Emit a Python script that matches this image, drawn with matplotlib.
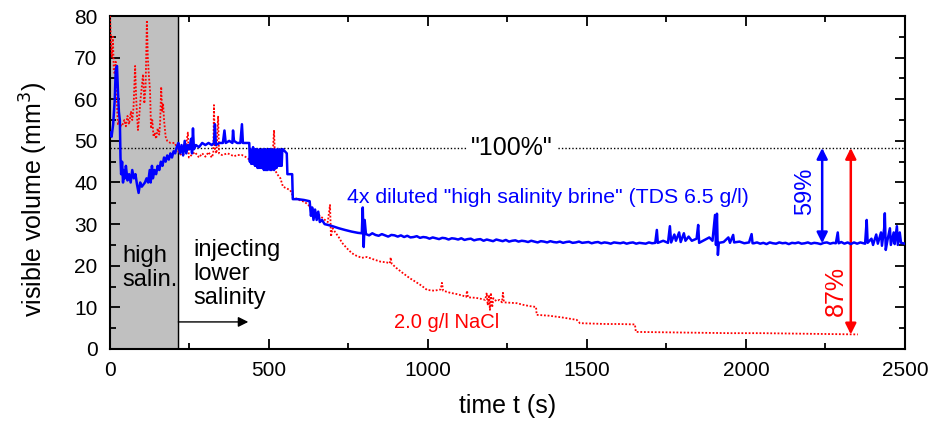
import matplotlib
matplotlib.use("Agg")
import matplotlib.pyplot as plt
from matplotlib.ticker import MultipleLocator

# ── Data ───────────────────────────────────────────────────────────────────────

# blue trace: 4x diluted high salinity brine, split into pieces for readability
blue_t_start = [0, 5, 10, 15, 18, 22, 25, 28, 31, 33,
                35, 38, 41, 44, 47, 50, 55, 60, 65, 70,
                75, 80, 85, 90, 95, 100, 110, 115, 120, 125,
                128, 132, 135, 140, 145, 150, 155, 160, 165, 170,
                175, 180, 185, 190, 195, 200, 205, 210, 215, 220,
                225, 230, 235, 240, 245, 250, 255, 258, 261, 264,
                270, 280, 290, 300, 310, 320, 327, 330, 333, 345,
                355, 360, 364, 375, 385, 387, 390, 400, 410, 415,
                418, 430, 438]
blue_v_start = [52, 51, 54, 60, 67, 68, 62, 57, 55, 46,
                42, 45, 40, 43, 41, 44, 40.5, 42, 40, 43,
                41, 42, 39.5, 37.5, 40, 39, 40, 41, 40, 43,
                40, 44, 41, 43, 42, 44, 43, 45, 44, 46,
                45, 46.5, 45.5, 47, 46, 47.5, 47, 48.5, 49.5, 47,
                49, 46.5, 50, 47, 49, 48, 50.5, 47, 53, 48,
                49, 48.5, 49.5, 49, 49.5, 49, 49.5, 54, 49, 49.5,
                49.5, 52.5, 49.5, 50, 49.5, 52.5, 50, 49.5, 49.5, 54,
                49.5, 49.5, 49.5]

blue_t_osc = [440, 442, 444, 446, 448, 450, 452, 454, 456, 458,
              460, 462, 464, 466, 468, 470, 472, 474, 476, 478,
              480, 482, 484, 486, 488, 490, 492, 494, 496, 498,
              500, 502, 504, 506, 508, 510, 512, 514, 516, 518,
              520, 522, 524, 526, 528, 530, 532, 534, 536, 538,
              540, 542, 544, 550, 556]
blue_v_osc = [45, 48, 44.5, 47.5, 44.5, 48.5, 44.5, 47, 44, 48,
              44, 48, 43.5, 47.5, 43.5, 48, 43.5, 47.5, 43.5, 48,
              43.5, 47.5, 43, 48, 43, 48, 43, 47.5, 43, 48,
              43.5, 48, 43, 47.5, 43, 48, 43.5, 47.5, 43, 48,
              44, 47.5, 43.5, 48, 44, 47.5, 44, 48, 44, 47.5,
              44, 48, 48, 47.5, 47]

blue_t_drop = [558, 570, 573, 575, 590, 610, 628, 632, 636, 640,
               645, 650, 655, 660, 667, 675, 686, 700, 720, 739,
               760, 780, 792, 795, 798, 801]
blue_v_drop = [42, 42, 42, 36, 36, 35.8, 35.5, 32, 34, 31,
               33.5, 31, 33, 30.5, 31, 30, 29.8, 29.5, 29, 28.6,
               28.2, 27.9, 27.8, 34, 24.5, 31]

blue_t_flat = [805, 815, 825, 835, 845, 855, 865, 875, 885, 895,
               905, 915, 925, 935, 945, 955, 965, 975, 985, 995,
               1005, 1015, 1025, 1035, 1045, 1055, 1065, 1075, 1085, 1095,
               1105, 1115, 1125, 1135, 1145, 1155, 1165, 1175, 1185, 1195,
               1205, 1215, 1225, 1235, 1245, 1255, 1265, 1275, 1285, 1295,
               1305, 1315, 1325, 1335, 1345, 1355, 1365, 1375, 1385, 1395,
               1405, 1415, 1425, 1435, 1445, 1455, 1465, 1475, 1485, 1495,
               1505, 1515, 1525, 1535, 1545, 1555, 1565, 1575, 1585, 1595,
               1605, 1615, 1625, 1635, 1645, 1655, 1665, 1675, 1685, 1695,
               1705, 1715]
blue_v_flat = [27.6, 27.3, 27.8, 27.4, 27.2, 27.6, 27.3, 27.0, 27.4, 27.3,
               27.0, 27.3, 26.9, 27.2, 26.8, 26.9, 27.1, 26.7, 26.9, 26.8,
               26.5, 26.8, 26.6, 26.4, 26.7, 26.6, 26.3, 26.6, 26.5, 26.3,
               26.6, 26.2, 26.4, 26.5, 26.1, 26.3, 26.4, 26.0, 26.3, 26.1,
               25.9, 26.3, 26.1, 25.9, 26.2, 25.8, 26.0, 26.1, 25.8, 26.0,
               25.9, 25.7, 26.0, 25.8, 25.6, 25.9, 25.8, 25.6, 25.9, 25.7,
               25.6, 25.8, 25.5, 25.7, 25.8, 25.5, 25.6, 25.8, 25.5, 25.6,
               25.7, 25.4, 25.6, 25.7, 25.4, 25.6, 25.5, 25.3, 25.6, 25.5,
               25.4, 25.6, 25.3, 25.5, 25.6, 25.3, 25.5, 25.4, 25.3, 25.6,
               25.4, 25.5]

blue_t_spikes = [1720, 1723, 1740, 1755, 1761, 1765, 1775, 1780, 1790, 1795,
                 1805, 1810, 1820, 1830, 1845, 1850, 1853, 1870, 1885, 1895,
                 1903, 1906, 1909, 1912, 1915, 1930, 1945, 1950, 1960, 1963,
                 1980, 1995, 2010, 2018, 2021]
blue_v_spikes = [28.6, 25.5, 26, 25.5, 29.5, 25.6, 27.5, 26, 28, 25.7,
                 27.8, 26, 27, 26, 26.5, 29.8, 25.5, 26.2, 26.8, 26,
                 32.2, 25, 32.5, 22.6, 25.5, 25.7, 26.8, 25.5, 27.4, 25.6,
                 25.8, 25.4, 25.6, 27.6, 25.4]

blue_t_flat2 = [2025, 2035, 2045, 2055, 2065, 2075, 2085, 2095, 2105, 2115,
                2125, 2135, 2145, 2155, 2165, 2175, 2185, 2195, 2205, 2215,
                2225, 2235, 2245, 2255, 2265, 2275, 2283]
blue_v_flat2 = [25.4, 25.6, 25.3, 25.5, 25.2, 25.6, 25.4, 25.3, 25.6, 25.4,
                25.5, 25.2, 25.5, 25.4, 25.6, 25.3, 25.4, 25.6, 25.3, 25.5,
                25.4, 25.2, 25.5, 25.6, 25.3, 25.5, 25.4]

blue_t_end = [2289, 2292, 2300, 2310, 2320, 2330, 2340, 2350, 2360, 2375,
              2380, 2383, 2395, 2400, 2410, 2415, 2425, 2428, 2435, 2437,
              2440, 2445, 2453, 2456, 2465, 2468, 2475, 2478, 2484, 2488,
              2500]
blue_v_end = [28, 25.4, 25.7, 25.3, 25.6, 25.2, 25.6, 25.3, 25.6, 25.3,
              31, 25.5, 26.5, 25, 27.5, 25.3, 28, 24.8, 29, 32.6,
              23.8, 26, 29, 25, 28, 25.2, 29.5, 25, 28, 25.5,
              25.3]

blue_t = (blue_t_start + blue_t_osc + blue_t_drop + blue_t_flat
          + blue_t_spikes + blue_t_flat2 + blue_t_end)
blue_v = (blue_v_start + blue_v_osc + blue_v_drop + blue_v_flat
          + blue_v_spikes + blue_v_flat2 + blue_v_end)

# red trace: 2.0 g/l NaCl
red_t = [0, 3, 6, 9, 12, 15, 18, 21, 25, 30, 35, 40, 45, 50, 55, 60, 66, 70, 74, 79, 82,
         85, 88, 92, 96, 100, 104, 108, 112, 116, 119, 122, 126, 129, 133, 137, 141, 145,
         150, 155, 158, 161, 164, 167, 170, 175, 180, 190, 204, 215, 225, 235, 245, 248,
         255, 267, 280, 290, 300, 310, 320, 325, 327, 330, 335, 340, 343, 352, 370, 390,
         400, 415, 430, 440, 460, 478, 495, 509, 516, 520, 528, 536, 544, 555, 566, 572,
         575, 582, 595, 613, 625, 645, 660, 676, 685, 692, 695, 700, 708, 720, 730, 745,
         761, 775, 792, 808, 830, 850, 870, 880, 883, 886, 900, 920, 943, 960, 980, 997,
         1020, 1040, 1044, 1048, 1070, 1090, 1110, 1120, 1123, 1126, 1150, 1170, 1180,
         1185, 1188, 1192, 1195, 1198, 1202, 1206, 1215, 1225, 1233, 1236, 1239, 1260,
         1280, 1300, 1320, 1340, 1342, 1380, 1420, 1468, 1478, 1520, 1560, 1600, 1651,
         1654, 1750, 1850, 1950, 2050, 2150, 2250, 2352]
red_v = [80, 74, 70, 75, 67, 66, 69, 60, 54, 55, 53.5, 54, 55, 53.5, 56, 54, 57, 55, 58, 68, 61,
         56, 52.6, 56, 60, 63, 66, 59, 63, 79, 70, 66, 62, 53, 55, 51, 52, 50.5,
         53, 51.5, 55, 63, 57, 59, 55, 51, 50, 49.5, 49.5, 47.5, 46.5, 47, 52, 46,
         46.5, 47.3, 46, 47, 46.2, 47.3, 46, 47, 58.6, 48, 47, 56, 47, 46.6, 47, 46.3,
         46.6, 46.6, 46, 45.4, 44.8, 44.2, 43.5, 43, 52.6, 42.8, 41.8, 41, 39, 38.6, 38.2, 37.5,
         36.3, 36.3, 35.8, 35.3, 34.5, 33, 32, 31, 30.5, 34.6, 27, 29, 28.1, 26.8, 25.5, 24.2,
         23, 22.4, 21.9, 22.1, 21.5, 21, 20.8, 20.6, 22, 20.5, 19.5, 18.3, 17, 16.2, 15.2, 14.2,
         14, 14.3, 15.9, 14, 13.5, 13.2, 12.8, 12.5, 14, 12.4, 12.3, 12, 11.8,
         13.5, 10.5, 13, 9.4, 13.5, 10, 12.2, 11.5, 11.8, 11.2, 13.5, 11.2, 11.1,
         11, 10.6, 10.3, 10.1, 8.2, 8, 7.6, 7, 6.2, 6.1, 6, 6, 5.9,
         4.1, 4, 3.9, 3.8, 3.8, 3.7, 3.6, 3.5]

high_salin_end = 215      # end of the high-salinity injection (s)
reference_level = 48.3    # "100%" level (mm^3)
blue_final = 25.4
red_final = 3.5

# ── Figure ─────────────────────────────────────────────────────────────────────

plt.rcParams["font.family"] = ["Liberation Sans", "DejaVu Sans"]

fig = plt.figure(figsize=(9.29, 4.26), dpi=100)
ax = fig.add_axes([0.1184, 0.1808, 0.8556, 0.7816])

ax.axvspan(0, high_salin_end, color="#c0c0c0", zorder=0)
ax.axvline(high_salin_end, color="black", linewidth=1, zorder=1)

ax.axhline(reference_level, color="black", linestyle=(0, (1, 1.5)), linewidth=1, zorder=2)
ax.text(1264, reference_level, '"100%"', fontsize=18, ha="center", va="center",
        bbox=dict(facecolor="white", edgecolor="none", pad=3), zorder=3)

ax.plot(red_t, red_v, color="red", linestyle=(0, (1, 1)), linewidth=1.3, zorder=4)
ax.plot(blue_t, blue_v, color="blue", linewidth=1.8, zorder=5)

# annotations
ax.text(38, 19.5, "high\nsalin.", fontsize=17, ha="left", va="center", linespacing=1.1)
ax.text(262, 18, "injecting\nlower\nsalinity", fontsize=17, ha="left", va="center",
        linespacing=1.1)
ax.annotate("", xy=(435, 6.5), xytext=(high_salin_end, 6.5),
            arrowprops=dict(arrowstyle="-|>", color="black", lw=1, mutation_scale=15,
                            shrinkA=0, shrinkB=0))

ax.text(745, 36.5, '4x diluted "high salinity brine" (TDS 6.5 g/l)', fontsize=15.3,
        color="blue", ha="left", va="center")
ax.text(1060, 6.3, "2.0 g/l NaCl", fontsize=14.5, color="red", ha="center", va="center")

ax.annotate("", xy=(2240, reference_level), xytext=(2240, blue_final),
            arrowprops=dict(arrowstyle="<|-|>", color="blue", lw=1.8, mutation_scale=16,
                            shrinkA=0, shrinkB=0))
ax.annotate("", xy=(2330, reference_level), xytext=(2330, red_final),
            arrowprops=dict(arrowstyle="<|-|>", color="red", lw=1.8, mutation_scale=16,
                            shrinkA=0, shrinkB=0))
ax.text(2186, 38, "59%", fontsize=17, color="blue", rotation=90, ha="center", va="center")
ax.text(2283, 14, "87%", fontsize=18, color="red", rotation=90, ha="center", va="center")

# axes
ax.set_xlim(0, 2500)
ax.set_ylim(0, 80)
ax.xaxis.set_major_locator(MultipleLocator(500))
ax.xaxis.set_minor_locator(MultipleLocator(250))
ax.yaxis.set_major_locator(MultipleLocator(10))
ax.yaxis.set_minor_locator(MultipleLocator(5))
ax.tick_params(which="both", direction="in", top=True, right=True, width=1.3)
ax.tick_params(which="major", length=7)
ax.tick_params(which="minor", length=4)
ax.tick_params(axis="y", labelsize=15, pad=9)
ax.tick_params(axis="x", labelsize=15, pad=9)
for spine in ax.spines.values():
    spine.set_linewidth(1.5)

ax.set_xlabel("time t (s)", fontsize=18, labelpad=10)
ax.set_ylabel("visible volume (mm$^3$)", fontsize=18)
ax.yaxis.set_label_coords(-0.075, 0.45)

plt.savefig("out.png", dpi=100)
plt.close()
